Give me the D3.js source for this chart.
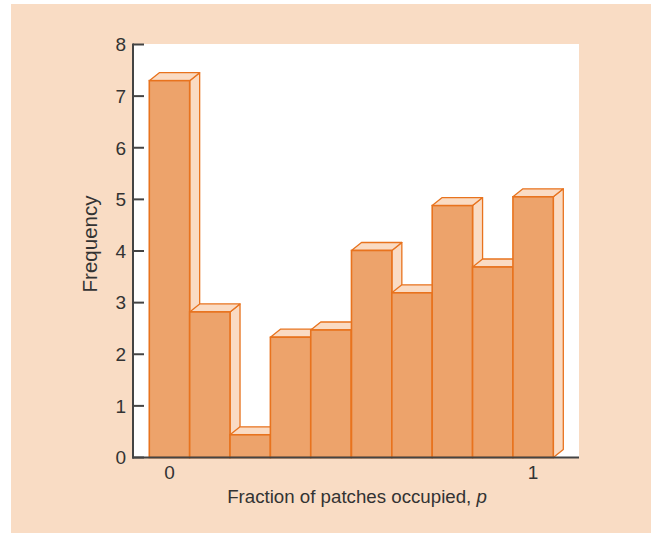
<!DOCTYPE html>
<html><head><meta charset="utf-8">
<script src="https://cdn.jsdelivr.net/npm/d3@7"></script>
<style>
html,body{margin:0;padding:0;background:#fff;}
svg{display:block;}
text{font-family:"Liberation Sans",Arial,Helvetica,sans-serif;fill:#333;}
</style></head>
<body>
<script>
// Data
const binCenters = [0, 0.111, 0.222, 0.333, 0.444, 0.556, 0.667, 0.778, 0.889, 1];
const frequencies = [7.3, 2.82, 0.44, 2.33, 2.47, 4.01, 3.19, 4.88, 3.69, 5.05];
const yTicks = [0, 1, 2, 3, 4, 5, 6, 7, 8];
const xTicks = [0, 1];
const xTickLabels = ["0", "1"];
const binWidth = 0.111;

const W = 651, H = 533;
const svg = d3.select("body").append("svg").attr("width", W).attr("height", H);

// background panel
svg.append("rect").attr("x", 11).attr("y", 4).attr("width", W - 11).attr("height", H - 4).attr("fill", "#F9DCC4");

const plot = {left: 134, right: 579, top: 44, bottom: 457.5};
svg.append("rect").attr("x", plot.left).attr("y", plot.top)
  .attr("width", plot.right - plot.left).attr("height", plot.bottom - plot.top).attr("fill", "#fff");

const x = d3.scaleLinear().domain([-binWidth / 2, 1 + binWidth / 2]).range([149.3, 553.3]);
const y = d3.scaleLinear().domain([0, 8]).range([plot.bottom, plot.top + 0.5]);

const dx = 10, dy = -8;
const frontFill = "#EDA36B", sideFill = "#FADBC3", edge = "#E8731E";

const g = svg.append("g");
binCenters.forEach((c, i) => {
  const x0 = x(c - binWidth / 2), x1 = x(c + binWidth / 2);
  const yt = y(frequencies[i]), yb = y(0);
  const bar = g.append("g");
  bar.append("polygon")
    .attr("points", [[x1, yt], [x1 + dx, yt + dy], [x1 + dx, yb + dy], [x1, yb]].map(p => p.join(",")).join(" "))
    .attr("fill", sideFill).attr("stroke", edge).attr("stroke-width", 1.3).attr("stroke-linejoin", "round");
  bar.append("polygon")
    .attr("points", [[x0, yt], [x0 + dx, yt + dy], [x1 + dx, yt + dy], [x1, yt]].map(p => p.join(",")).join(" "))
    .attr("fill", sideFill).attr("stroke", edge).attr("stroke-width", 1.3).attr("stroke-linejoin", "round");
  bar.append("rect")
    .attr("x", x0).attr("y", yt).attr("width", x1 - x0).attr("height", yb - yt)
    .attr("fill", frontFill).attr("stroke", edge).attr("stroke-width", 1.6);
});

// Y axis
const yAxis = svg.append("g");
yAxis.append("line").attr("x1", 133).attr("x2", 133).attr("y1", y(8) - 1).attr("y2", plot.bottom + 1)
  .attr("stroke", "#444").attr("stroke-width", 2);
yTicks.forEach(t => {
  yAxis.append("line").attr("x1", 133).attr("x2", 144).attr("y1", y(t)).attr("y2", y(t))
    .attr("stroke", "#444").attr("stroke-width", 2);
  yAxis.append("text").attr("x", 126).attr("y", y(t)).attr("dy", "0.36em")
    .attr("text-anchor", "end").attr("font-size", 19).text(t);
});

// X axis
svg.append("line").attr("x1", 132).attr("x2", plot.right).attr("y1", plot.bottom).attr("y2", plot.bottom)
  .attr("stroke", "#444").attr("stroke-width", 2);
xTicks.forEach((t, i) => {
  svg.append("text").attr("x", x(t)).attr("y", 479).attr("text-anchor", "middle")
    .attr("font-size", 19).text(xTickLabels[i]);
});

// axis titles
const xt = svg.append("text").attr("x", 357).attr("y", 503).attr("text-anchor", "middle").attr("font-size", 18.7);
xt.append("tspan").text("Fraction of patches occupied, ");
xt.append("tspan").attr("font-style", "italic").text("p");

svg.append("text").attr("transform", "translate(97,244) rotate(-90)")
  .attr("text-anchor", "middle").attr("font-size", 20.5).text("Frequency");
</script>
</body></html>
